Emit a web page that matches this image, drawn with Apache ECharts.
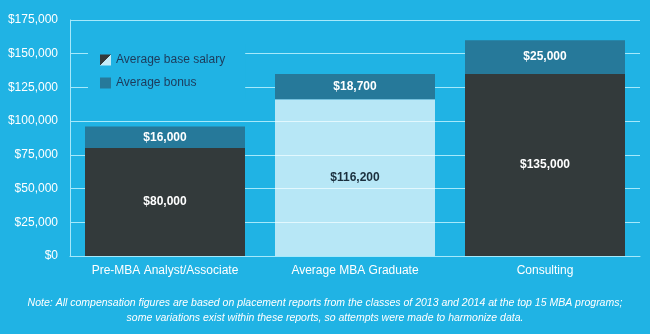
<!DOCTYPE html>
<html>
<head>
<meta charset="utf-8">
<script src="https://cdn.jsdelivr.net/npm/echarts@6/dist/echarts.min.js"></script>
<style>
  html, body { margin: 0; padding: 0; background: #20b3e4; }
  #chart { width: 650px; height: 334px; }
</style>
</head>
<body>
<div id="chart"></div>
<script>
// Compensation by career stage: base salary plus bonus, stacked
const categories = ['Pre-MBA Analyst/Associate', 'Average MBA Graduate', 'Consulting'];
const baseSalary = [80000, 116200, 135000];
const bonus = [16000, 18700, 25000];
const seriesNames = ['Average base salary', 'Average bonus'];
const noteLines = [
  'Note: All compensation figures are based on placement reports from the classes of 2013 and 2014 at the top 15 MBA programs;',
  'some variations exist within these reports, so attempts were made to harmonize data.'
];

const BG = '#20b3e4';
const DARK = '#333a3b';
const LIGHT = 'rgba(255,255,255,0.68)';
const BONUS = '#26799a';
const GRID = '#a6e9fb';
const FONT = '"Liberation Sans", Arial, Helvetica, sans-serif';

const baseColors = [DARK, LIGHT, DARK];
const baseLabelColors = ['#ffffff', '#1a2f3d', '#ffffff'];

const money = v => '$' + Number(v).toLocaleString('en-US');

const chart = echarts.init(document.getElementById('chart'));
chart.setOption({
  backgroundColor: BG,
  animation: false,
  textStyle: { fontFamily: FONT },
  title: {
    text: noteLines.join('\n'),
    left: 'center',
    top: 291,
    textStyle: {
      fontFamily: FONT,
      fontStyle: 'italic',
      fontWeight: 'normal',
      fontSize: 10.5,
      lineHeight: 15,
      color: '#ffffff',
      align: 'center'
    }
  },
  legend: {
    orient: 'vertical',
    left: 88,
    top: 44,
    padding: [10, 20, 10, 12],
    backgroundColor: BG,
    itemWidth: 11,
    itemHeight: 11,
    itemGap: 11,
    z: 10,
    textStyle: { color: '#1d3a5a', fontSize: 12, fontFamily: FONT },
    data: [
      {
        name: seriesNames[0],
        icon: 'rect',
        itemStyle: {
          color: {
            type: 'linear', x: 0, y: 0, x2: 1, y2: 1,
            colorStops: [
              { offset: 0, color: DARK }, { offset: 0.5, color: DARK },
              { offset: 0.5, color: '#c3ebf8' }, { offset: 1, color: '#c3ebf8' }
            ]
          }
        }
      },
      { name: seriesNames[1], icon: 'rect' }
    ]
  },
  grid: { left: 70, right: 10, top: 20, bottom: 78, containLabel: false },
  xAxis: {
    type: 'category',
    data: categories,
    axisLine: { show: true, lineStyle: { color: GRID, width: 1 } },
    axisTick: { show: false },
    axisLabel: { color: '#ffffff', fontSize: 12, margin: 9, interval: 0, fontFamily: FONT }
  },
  yAxis: {
    type: 'value',
    min: 0,
    max: 175000,
    interval: 25000,
    axisLine: { show: true, lineStyle: { color: GRID, width: 1 } },
    axisTick: { show: false },
    splitLine: { show: true, lineStyle: { color: GRID, width: 1 } },
    axisLabel: { color: '#ffffff', fontSize: 12, margin: 12, formatter: money, fontFamily: FONT }
  },
  series: [
    {
      name: seriesNames[0],
      type: 'bar',
      stack: 'total',
      barWidth: 160,
      itemStyle: { color: DARK },
      data: baseSalary.map((v, i) => ({
        value: v,
        itemStyle: { color: baseColors[i] },
        label: { color: baseLabelColors[i] }
      })),
      label: {
        show: true,
        position: 'inside',
        fontSize: 12,
        fontWeight: 'bold',
        fontFamily: FONT,
        formatter: p => money(p.value)
      }
    },
    {
      name: seriesNames[1],
      type: 'bar',
      stack: 'total',
      barWidth: 160,
      itemStyle: { color: BONUS },
      data: bonus,
      label: {
        show: true,
        position: 'inside',
        color: '#ffffff',
        fontSize: 12,
        fontWeight: 'bold',
        fontFamily: FONT,
        formatter: p => money(p.value)
      }
    }
  ]
});
</script>
</body>
</html>
